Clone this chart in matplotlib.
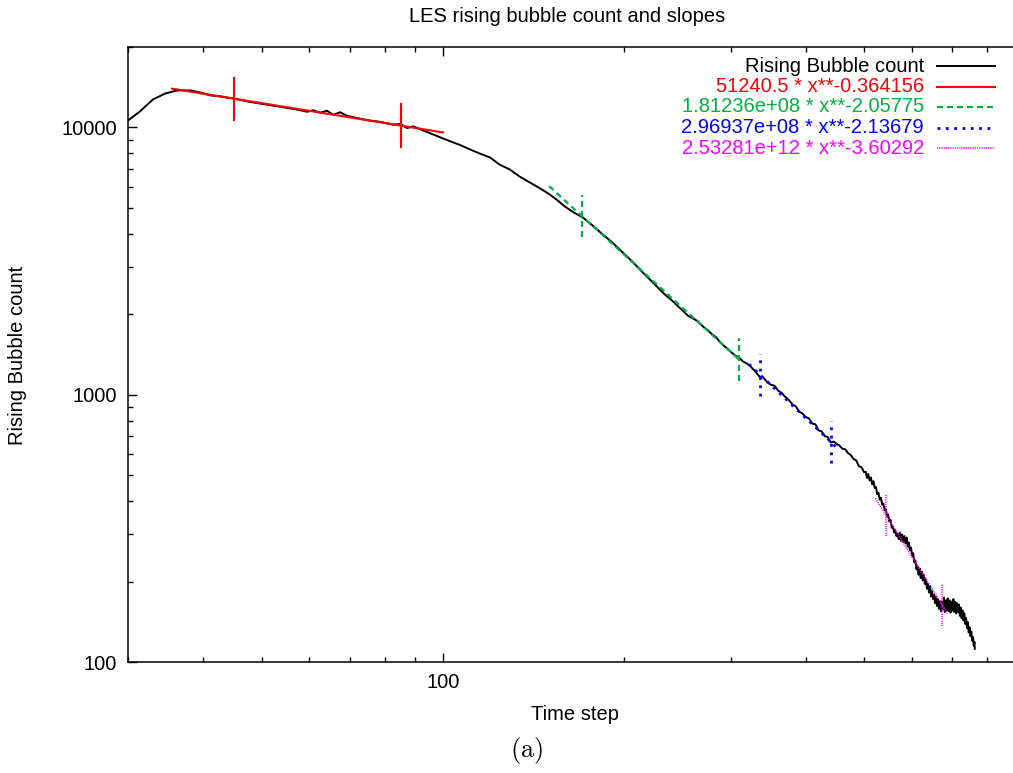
"""LES rising bubble count with power-law slope fits (log-log, gnuplot look)."""
import matplotlib

matplotlib.use("Agg")
import matplotlib.pyplot as plt
import numpy as np
from matplotlib import ticker
from matplotlib.lines import Line2D

time_step = [
    30, 31.4, 33, 34.6, 36.2, 38.1, 39.5, 41.1, 42.7, 45.2, 47.9, 50.7, 53.7, 56.8,
    59.5, 60.9, 62.5, 64.2, 65.7, 67.5, 69.3, 72, 74.8, 78.6, 82.6, 84.9, 87.2, 89.2,
    92.6, 96.2, 100, 103, 106.7, 110.9, 115, 119.7, 124, 129.1, 134, 139.4, 145,
    150.4, 155, 159.3, 165, 170.7, 177, 184.2, 191, 198.9, 207, 214.7, 223, 231.6,
    240, 250, 255, 260, 265, 270, 275, 279, 284, 288, 294,
    300, 305, 310, 315, 320, 325, 330, 335, 340, 345, 350, 355, 360, 365, 370, 375,
    380, 385, 390, 395, 400, 405, 410, 415, 420, 425, 430, 435, 440, 445, 450, 455,
    460, 465, 470, 475, 480, 485, 490, 495, 500,
    503, 505.5, 508, 510.5, 513, 515.5, 518, 520.5, 523, 525.5, 528, 530.5, 533, 535.5,
    538, 540.5, 543, 545.5, 548, 550.5, 553, 555.5, 558, 560.5, 563, 565.5, 568, 570.5,
    573, 575.5, 578, 580.5, 583, 585.5, 588, 590.5, 593, 595.5, 598, 600.5, 603, 605.5,
    608, 610.5, 613, 615.5, 618, 620.5, 623, 625.5, 628, 630.5, 633, 635.5, 638, 640.5,
    643, 645.5, 648, 650.5, 653, 655.5, 658, 660.5, 663, 665.5, 668, 670.5, 673, 675.5,
    678, 680.5, 683, 685.5, 688, 690.5, 693, 695.5, 698, 700.5, 703, 705.5, 708, 710.5,
    713, 715.5, 718, 720.5, 723, 725.5, 728, 730.5, 733, 735.5, 738, 740.5, 743, 745.5,
    748, 750.5, 753, 755.5, 758, 760, 762, 763,
]
bubble_count = [
    10620, 11480, 12730, 13400, 13760, 13760, 13520, 13180, 13070, 12800, 12450, 12200,
    11950, 11700, 11450, 11600, 11350, 11550, 11150, 11400, 11050, 10850, 10650, 10500,
    10250, 10300, 9950, 10100, 9750, 9420, 9100, 8860, 8600, 8270, 7990, 7720, 7270,
    6960, 6550, 6220, 5910, 5610, 5330, 5060, 4800, 4600, 4300, 3975, 3710, 3400, 3120,
    2860, 2630, 2410, 2250, 2060, 1975, 1930, 1880, 1800, 1745, 1690, 1640, 1575, 1510,
    1450, 1405, 1376, 1330, 1305, 1265, 1220, 1170, 1160, 1115, 1090, 1080, 1035, 1015,
    980, 955, 920, 905, 865, 850, 825, 815, 780, 775, 735, 730, 700, 695, 662, 668, 655,
    645, 628, 625, 605, 595, 575, 568, 540, 535, 512,
    515, 488, 505, 478, 490, 462, 475, 448, 452, 425, 430, 405, 412, 388,
    392, 370, 375, 352, 356, 335, 340, 318, 322, 305, 312, 296, 302, 288,
    305, 284, 300, 281, 296, 278, 292, 270, 280, 262, 268, 250, 255, 236,
    240, 222, 228, 212, 224, 206, 218, 202, 212, 196, 204, 188, 196, 182,
    192, 176, 184, 172, 178, 166, 175, 162, 172, 158, 169, 155, 168, 157,
    174, 154, 170, 156, 173, 155, 170, 153, 168, 156, 172, 154, 168, 152,
    166, 154, 164, 149, 160, 146, 156, 143, 152, 139, 146, 134, 141, 129,
    135, 125, 130, 120, 124, 115, 119, 112,
]

# power-law fits a * x**b, drawn over a range with two vertical range marks
fit_labels = [
    "51240.5 * x**-0.364156",
    "1.81236e+08 * x**-2.05775",
    "2.96937e+08 * x**-2.13679",
    "2.53281e+12 * x**-3.60292",
]
fit_coef = [51240.5, 1.81236e08, 2.96937e08, 2.53281e12]
fit_power = [-0.364156, -2.05775, -2.13679, -3.60292]
fit_start = [35.5, 150, 322, 522]
fit_stop = [100, 310, 450, 688]
fit_marks = [(45, 85), (170, 310), (336, 440), (543, 673)]

DATA_STYLE = dict(color="black", lw=1.4)
FIT_STYLES = [
    dict(color="#ff0000", lw=1.5, ls="-"),
    dict(color="#00b040", lw=1.6, ls=(0, (4.3, 2.9))),
    dict(color="#0000ff", lw=2.0, ls=(0, (2.0, 4.0))),
    dict(color="#ff00ff", lw=1.2, ls=(0, (0.8, 0.8))),
]
MARK_SPAN = 1.2  # vertical half-height of range marks, as a factor in y

W, H = 1013, 773


def fx(px):
    return px / W


def fy(py):
    return 1 - py / H


def main():
    plt.rcParams["font.family"] = ["Liberation Sans", "DejaVu Sans"]
    plt.rcParams["mathtext.fontset"] = "cm"
    plt.rcParams["lines.scale_dashes"] = False

    fig = plt.figure(figsize=(W / 100, H / 100), dpi=100)
    ax = fig.add_axes([fx(128), fy(662), fx(1018) - fx(128), fy(47) - fy(662)])

    ax.plot(time_step, bubble_count, **DATA_STYLE)
    for a, b, x0, x1, marks, style in zip(fit_coef, fit_power, fit_start, fit_stop, fit_marks, FIT_STYLES):
        xs = np.geomspace(x0, x1, 200)
        ax.plot(xs, a * xs**b, **style)
        for m in marks:
            ym = a * m**b
            ax.plot([m, m], [ym / MARK_SPAN, ym * MARK_SPAN], **style)

    ax.set_xscale("log")
    ax.set_yscale("log")
    ax.set_xlim(30, 900)
    ax.set_ylim(100, 20000)
    fmt = ticker.FuncFormatter(lambda v, _: f"{v:g}")
    ax.xaxis.set_major_formatter(fmt)
    ax.yaxis.set_major_formatter(fmt)
    ax.xaxis.set_minor_formatter(ticker.NullFormatter())
    ax.yaxis.set_minor_formatter(ticker.NullFormatter())
    ax.tick_params(which="both", direction="in", top=True, right=False, labelsize=14.5, width=1)
    ax.tick_params(which="major", length=6.5, pad=8)
    ax.tick_params(which="minor", length=3.5)
    for sp in ax.spines.values():
        sp.set_linewidth(1.1)

    # gnuplot-style key: right-aligned coloured text, sample line to the right
    key_labels = ["Rising Bubble count"] + fit_labels
    key_styles = [DATA_STYLE] + FIT_STYLES
    for i, (label, style) in enumerate(zip(key_labels, key_styles)):
        py = 66 + i * 20.5
        fig.text(fx(924), fy(py), label, ha="right", va="center", fontsize=14.5, color=style["color"])
        fig.add_artist(Line2D([fx(937), fx(995)], [fy(py), fy(py)], transform=fig.transFigure, **style))

    fig.text(fx(567), fy(16), "LES rising bubble count and slopes", ha="center", va="center", fontsize=14.5)
    fig.text(fx(575), fy(715), "Time step", ha="center", va="center", fontsize=14.5)
    fig.text(fx(18), fy(355), "Rising Bubble count", ha="center", va="center", rotation=90, fontsize=14.5)
    fig.text(fx(527), fy(750), r"$\mathrm{(a)}$", ha="center", va="center", fontsize=19)

    fig.savefig("out.png", dpi=100)
    plt.close(fig)


if __name__ == "__main__":
    main()
